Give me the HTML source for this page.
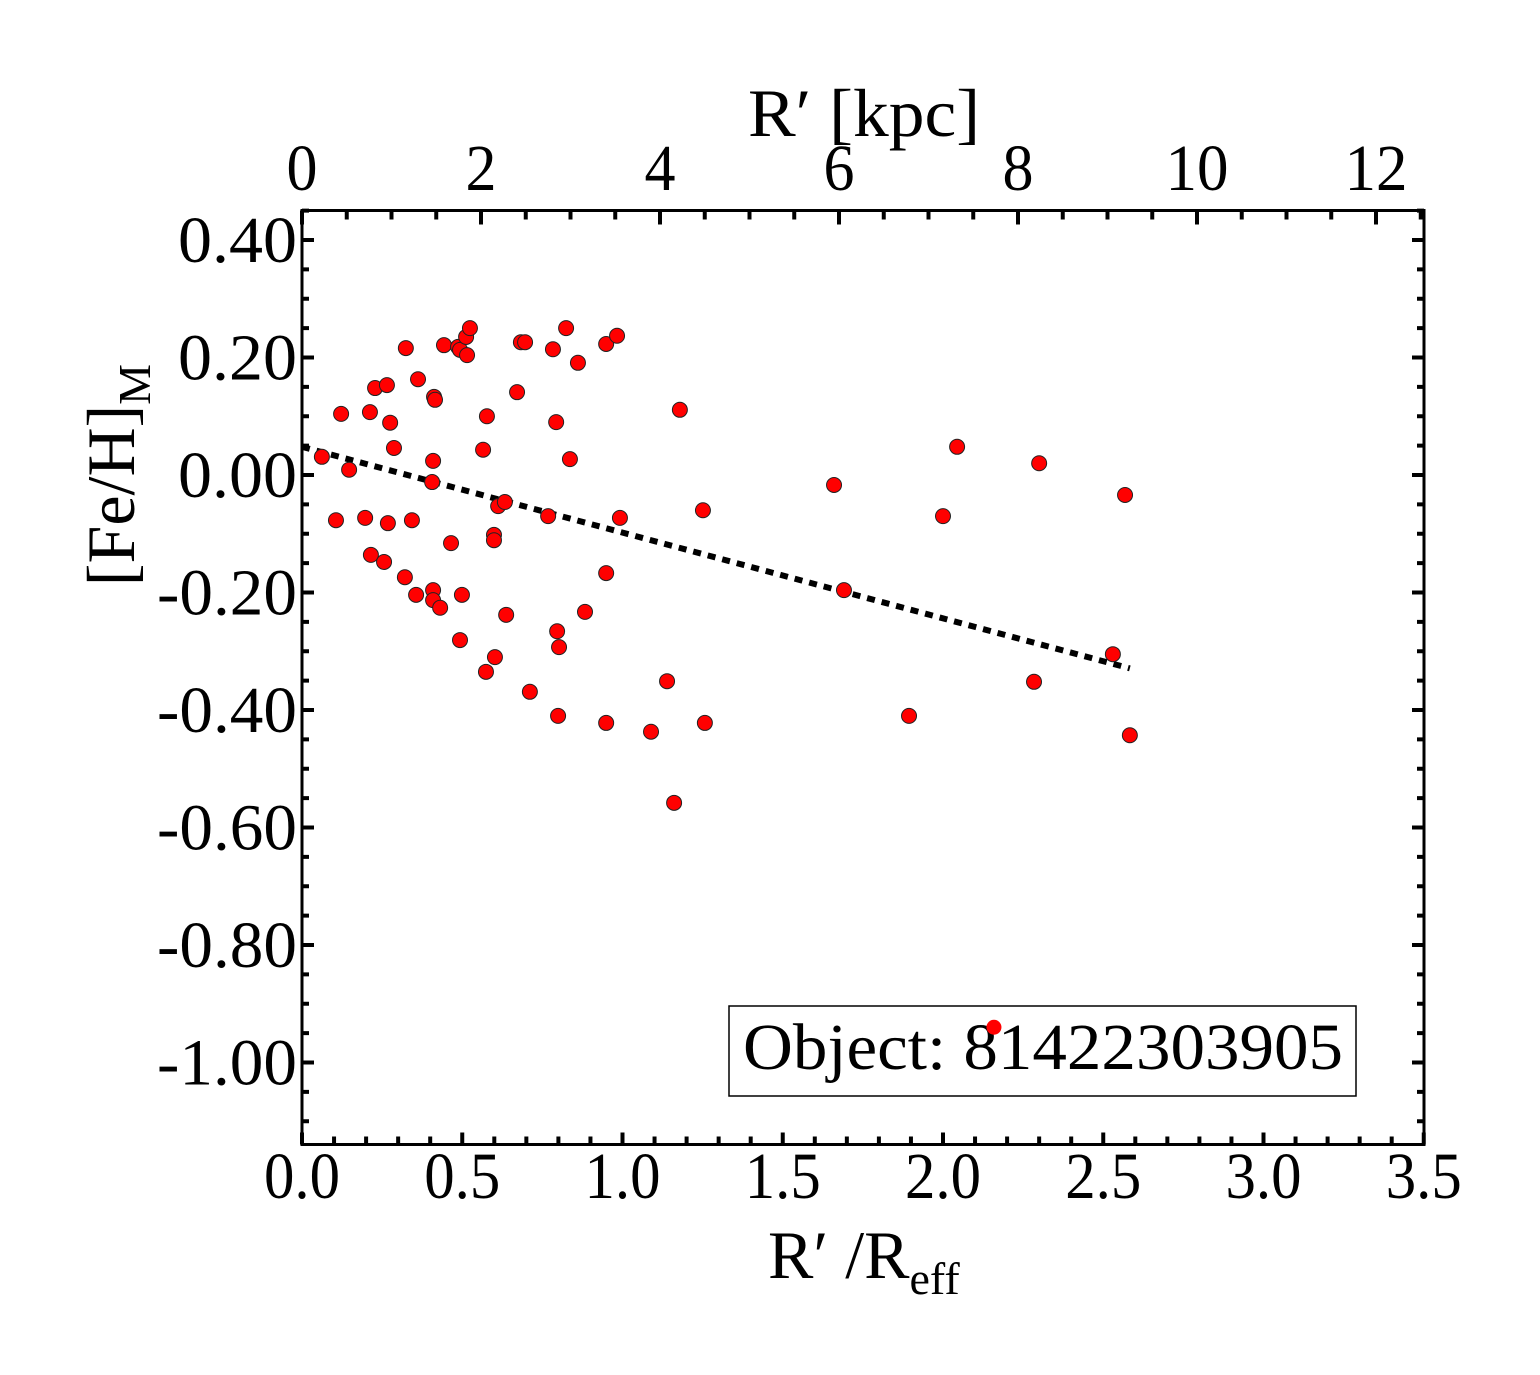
<!DOCTYPE html>
<html><head><meta charset="utf-8"><style>
html,body{margin:0;padding:0;background:#fff}
svg{display:block}
text{font-family:"Liberation Serif",serif;fill:#000}
</style></head><body>
<svg id="chart" width="1540" height="1375" viewBox="0 0 1540 1375" xmlns="http://www.w3.org/2000/svg">
<rect x="0" y="0" width="1540" height="1375" fill="#fff"/>
<g id="ticks"></g>
<g id="fit"></g>
<g id="points"></g>
<g id="labels"></g>
<rect x="302" y="210.5" width="1122" height="934" fill="none" stroke="#000" stroke-width="3"/>
<g>
<rect x="729" y="1006" width="627" height="90" fill="#fff" stroke="#000" stroke-width="1.5"/>
<text x="743" y="1069" font-size="66" textLength="600" lengthAdjust="spacingAndGlyphs">Object: 81422303905</text>
</g>
<g id="outlier"></g>
<text x="748" y="136" font-size="68" textLength="232" lengthAdjust="spacingAndGlyphs">R′ [kpc]</text>
<text x="768" y="1278" font-size="68">R′ /R<tspan font-size="46" dy="16">eff</tspan></text>
<text transform="translate(134,475) rotate(-90)" text-anchor="middle" font-size="68">[Fe/H]<tspan font-size="46" dy="16">M</tspan></text>
</svg>
<script>
const xValues=[0.062,0.106,0.122,0.147,0.197,0.212,0.215,0.228,0.256,0.265,0.268,0.275,0.287,0.321,0.324,0.343,0.356,0.362,0.406,0.409,0.412,0.415,0.409,0.409,0.431,0.443,0.465,0.487,0.493,0.493,0.499,0.512,0.515,0.524,0.565,0.574,0.577,0.599,0.599,0.602,0.612,0.633,0.637,0.671,0.683,0.696,0.711,0.768,0.783,0.793,0.796,0.799,0.802,0.824,0.836,0.861,0.883,0.949,0.949,0.949,0.983,0.992,1.089,1.139,1.161,1.179,1.251,1.257,1.660,1.691,1.894,2.000,2.044,2.159,2.284,2.300,2.530,2.568,2.583];
const yValues=[0.031,-0.077,0.104,0.009,-0.073,0.107,-0.136,0.148,-0.148,0.153,-0.082,0.089,0.046,-0.174,0.216,-0.077,-0.204,0.163,-0.012,0.024,0.133,0.128,-0.196,-0.213,-0.226,0.221,-0.116,0.218,0.213,-0.281,-0.204,0.235,0.204,0.250,0.043,-0.335,0.100,-0.102,-0.111,-0.310,-0.053,-0.046,-0.238,0.141,0.226,0.226,-0.369,-0.070,0.214,0.090,-0.266,-0.410,-0.293,0.250,0.027,0.191,-0.233,0.223,-0.167,-0.422,0.237,-0.073,-0.437,-0.351,-0.558,0.111,-0.060,-0.422,-0.017,-0.196,-0.410,-0.070,0.048,-0.940,-0.352,0.020,-0.305,-0.034,-0.443];
const fitIntercept=0.048;
const fitSlope=-0.146;
const fitXRange=[0,2.583];
const xTickLabels=["0.0","0.5","1.0","1.5","2.0","2.5","3.0","3.5"];
const xTickValues=[0,0.5,1,1.5,2,2.5,3,3.5];
const yTickLabels=["0.40","0.20","0.00","-0.20","-0.40","-0.60","-0.80","-1.00"];
const yTickValues=[0.4,0.2,0,-0.2,-0.4,-0.6,-0.8,-1.0];
const topTickLabels=["0","2","4","6","8","10","12"];
const topTickValues=[0,2,4,6,8,10,12];

const NS="http://www.w3.org/2000/svg";
const X0=302,XS=320.5,Y0=475,YS=587.5,KS=89.5;
const sx=v=>X0+v*XS, sy=v=>Y0-v*YS, sk=v=>X0+v*KS;
function mk(tag,attrs,parent){const e=document.createElementNS(NS,tag);for(const k in attrs)e.setAttribute(k,attrs[k]);parent.appendChild(e);return e;}
const T=document.getElementById('ticks'),L=document.getElementById('labels');
const TOP=210.5,BOT=1144.5,RIGHT=1424;
for(let i=0;i<=35;i++){const v=i/10,x=sx(v),maj=i%5===0,len=maj?12:8;
 const t=mk('line',{x1:x,x2:x,y1:BOT,y2:BOT-len,stroke:'#000','stroke-width':4},T);
 
 }
for(let i=0;i<=25;i++){const v=i/2,x=sk(v);if(x>RIGHT)break;const maj=i%4===0,len=maj?14:9;
 const t=mk('line',{x1:x,x2:x,y1:TOP,y2:TOP+len,stroke:'#000','stroke-width':4},T);
 
 }
for(let i=-22;i<=9;i++){const v=i*0.05,y=sy(v);if(y<TOP||y>BOT)continue;const maj=i%4===0,len=maj?12:7;
 const t=mk('line',{x1:X0,x2:X0+len,y1:y,y2:y,stroke:'#000','stroke-width':4},T);
 
 
 const t2=mk('line',{x1:RIGHT,x2:RIGHT-len,y1:y,y2:y,stroke:'#000','stroke-width':4},T);
 
 }
xTickLabels.forEach((s,i)=>{const e=mk('text',{x:sx(xTickValues[i]),y:1198,'font-size':66,'text-anchor':'middle',textLength:76,lengthAdjust:'spacingAndGlyphs'},L);e.textContent=s;
 
 });
yTickLabels.forEach((s,i)=>{const w=s.startsWith('-')?140:119;const e=mk('text',{x:297-w,y:sy(yTickValues[i])+22,'font-size':66,textLength:w,lengthAdjust:'spacingAndGlyphs'},L);e.textContent=s;
 
 });
topTickLabels.forEach((s,i)=>{const w=s.length>1?63:31;const e=mk('text',{x:sk(topTickValues[i]),y:190,'font-size':66,'text-anchor':'middle',textLength:w,lengthAdjust:'spacingAndGlyphs'},L);e.textContent=s;
 
 });
const F=document.getElementById('fit');
const fl=mk('line',{x1:sx(fitXRange[0]),y1:sy(fitIntercept+fitSlope*fitXRange[0]),x2:sx(fitXRange[1]),y2:sy(fitIntercept+fitSlope*fitXRange[1]),stroke:'#000','stroke-width':6,'stroke-dasharray':'8 7'},F);


const P=document.getElementById('points'),O=document.getElementById('outlier');
xValues.forEach((xv,i)=>{const y=sy(yValues[i]);const inLegend=y>1006&&y<1096;
 const c=mk('circle',{cx:sx(xv),cy:y,r:7.5,fill:'#ff0000',stroke:inLegend?'none':'#222','stroke-width':inLegend?0:1},inLegend?O:P);
 
 });
</script>
</body></html>
